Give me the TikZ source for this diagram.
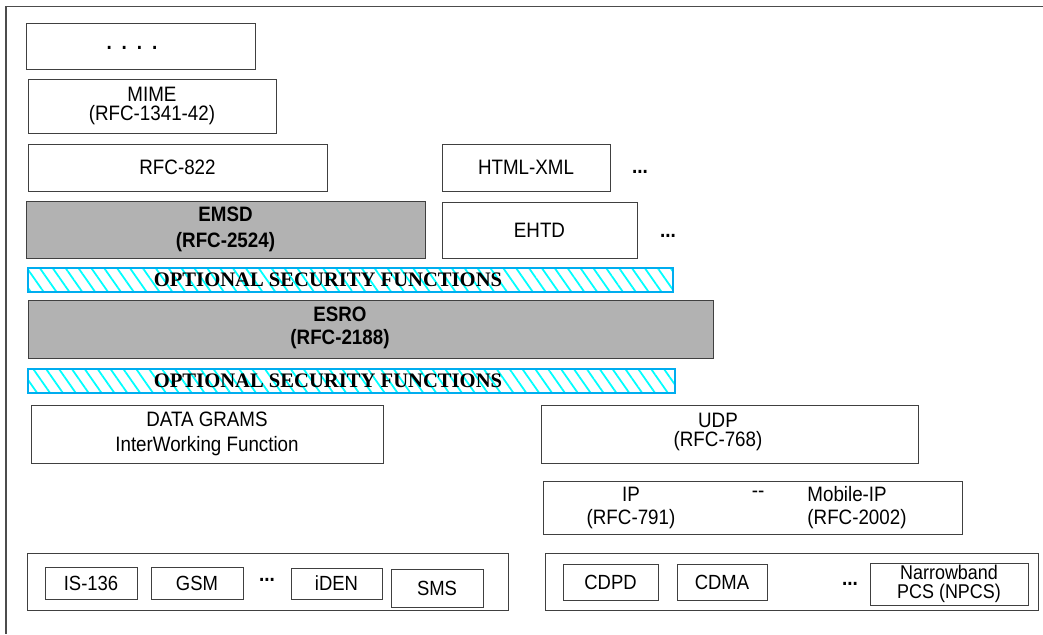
\documentclass[tikz,border=0pt]{standalone}
\usepackage{fontspec}
\setmainfont{Liberation Sans}[FakeStretch=0.9]
\newfontfamily\secfont{Liberation Serif}
\usetikzlibrary{patterns.meta}
\newlength\px
\setlength\px{0.03cm}
\tikzset{
  layer/.style={draw=black!75, line width=0.8pt, fill=white, inner sep=0pt,
    align=center, font=\fontsize{17.8}{16.2}\selectfont},
  grayer/.style={layer, fill=black!30, font=\fontsize{17.8}{22}\selectfont\bfseries},
  secbar/.style={draw=cyan, line width=1.2pt, inner sep=0pt,
    pattern={Lines[angle=-55, distance=9pt, line width=1.5pt]}, pattern color=cyan},
  sectext/.style={font=\fontsize{17.6}{17.6}\selectfont\secfont\bfseries, inner sep=0pt},
  small/.style={layer, font=\fontsize{17.5}{17.5}\selectfont},
  txt/.style={inner sep=0pt, align=center, font=\fontsize{17.8}{19.5}\selectfont},
  more/.style={inner sep=0pt, font=\fontsize{18}{18}\selectfont\bfseries}
}
\begin{document}
\begin{tikzpicture}[x=0.03cm, y=-0.03cm]
  \useasboundingbox (0,0) rectangle (1043,634);
  \coordinate (O) at (6,6.5);
  \draw[black!70, line width=1.2pt] (1043,6.5) -- (O) -- (6,634);

  \node[layer, minimum width=229\px, minimum height=46\px] (dots) at (140.5,46) {};
  \node[more] (dotstxt) at (132,48) {.\kern8.5pt.\kern8.5pt.\kern8.5pt.};
  \node[layer, minimum width=248\px, minimum height=54\px] (mime) at (152,106)
    {MIME\\(RFC-1341-42)};
  \node[layer, minimum width=299\px, minimum height=47\px] (rfc822) at (177.5,167.5) {RFC-822};
  \node[layer, minimum width=168\px, minimum height=47\px] (html) at (526,167.5) {HTML-XML};
  \node[more] (htmlmore) at (640,172) {...};
  \node[grayer, minimum width=399\px, minimum height=57\px] (emsd) at (225.5,229.5)
    {EMSD\\(RFC-2524)};
  \node[layer, minimum width=195\px, minimum height=56\px] (ehtd) at (539.5,230) {EHTD};
  \node[more] (ehtdmore) at (668,236) {...};

  \node[secbar, minimum width=645\px, minimum height=24\px] (sec1) at (350.5,280) {};
  \node[sectext] at (328,280) {OPTIONAL SECURITY FUNCTIONS};
  \node[grayer, minimum width=685\px, minimum height=58\px] (esro) at (370.5,329) {};
  \node[txt, font=\fontsize{17.8}{20}\selectfont\bfseries] at (340,328) {ESRO\\(RFC-2188)};
  \node[secbar, minimum width=647\px, minimum height=24\px] (sec2) at (351.5,381) {};
  \node[sectext] at (328,381) {OPTIONAL SECURITY FUNCTIONS};

  \node[layer, minimum width=352\px, minimum height=58\px,
    font=\fontsize{17.8}{21}\selectfont] (dgram) at (207,434)
    {DATA GRAMS\\InterWorking Function};
  \node[layer, minimum width=377\px, minimum height=58\px] (udp) at (729.5,434) {};
  \node[txt, font=\fontsize{17.8}{16.2}\selectfont] (udptxt) at (718,432) {UDP\\(RFC-768)};
  \node[layer, minimum width=419\px, minimum height=53\px] (ip) at (752.5,507.5) {};
  \node[txt] (iptxt) at (631,508) {IP\\(RFC-791)};
  \node[txt] (ipdash) at (758,494) {-{}-};
  \node[txt, align=left] (mobip) at (857,508) {Mobile-IP\\(RFC-2002)};

  \node[layer, minimum width=481\px, minimum height=57\px] (wless) at (267.5,581.5) {};
  \node[small, minimum width=92\px, minimum height=32\px] (is136) at (91,583) {IS-136};
  \node[small, minimum width=92\px, minimum height=32\px] (gsm) at (197,583) {GSM};
  \node[more] (wlessmore) at (267,580) {...};
  \node[small, minimum width=91\px, minimum height=31\px] (iden) at (336.5,583.5) {iDEN};
  \node[small, minimum width=92\px, minimum height=38\px] (sms) at (437,588) {SMS};

  \node[layer, minimum width=493\px, minimum height=57\px] (wdata) at (791.5,581.5) {};
  \node[small, minimum width=95\px, minimum height=36\px] (cdpd) at (610.5,582) {CDPD};
  \node[small, minimum width=90\px, minimum height=36\px] (cdma) at (722,582) {CDMA};
  \node[more] (wdatamore) at (850,584) {...};
  \node[small, minimum width=158\px, minimum height=42\px,
    font=\fontsize{17}{16}\selectfont] (npcs) at (949,584) {Narrowband\\PCS (NPCS)};
\end{tikzpicture}
\end{document}
